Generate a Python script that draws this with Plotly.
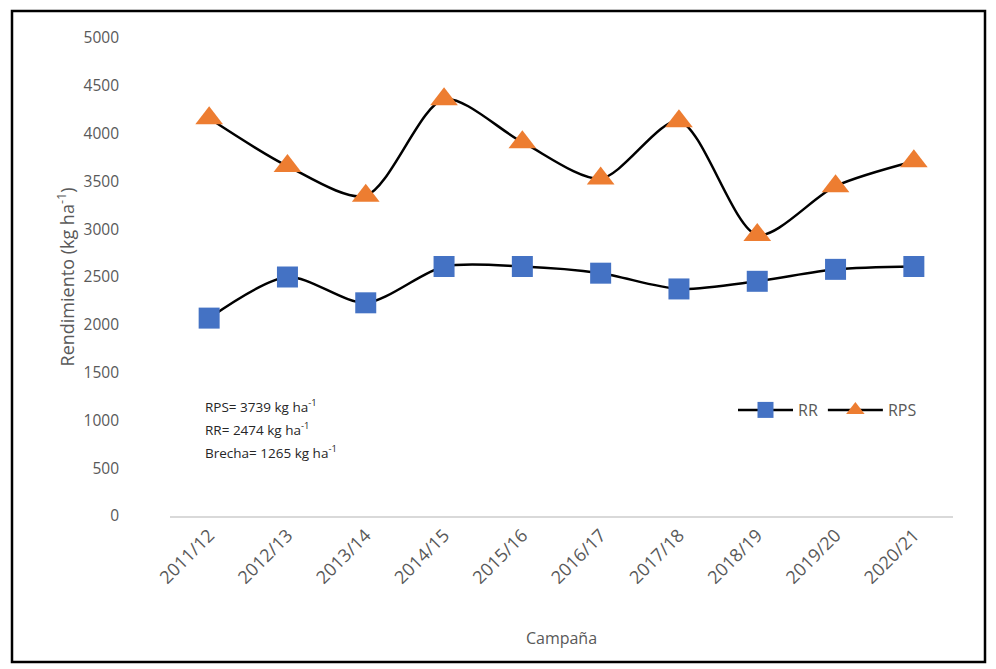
import plotly.graph_objects as go

campanas = ["2011/12", "2012/13", "2013/14", "2014/15", "2015/16",
            "2016/17", "2017/18", "2018/19", "2019/20", "2020/21"]
rr = [2070, 2500, 2230, 2610, 2610, 2540, 2375, 2455, 2580, 2610]
rps = [4160, 3660, 3350, 4360, 3910, 3530, 4130, 2940, 3450, 3710]
y_ticks = [0, 500, 1000, 1500, 2000, 2500, 3000, 3500, 4000, 4500, 5000]
notas = ["RPS= 3739 kg ha<sup>-1</sup>", "RR= 2474 kg ha<sup>-1</sup>", "Brecha= 1265 kg ha<sup>-1</sup>"]

FONT = "Open Sans"
GRAY = "#595959"

fig = go.Figure()
fig.add_trace(go.Scatter(
    x=campanas, y=rr, name="RR", mode="lines+markers",
    line=dict(color="black", width=2.5, shape="spline", smoothing=0.8),
    marker=dict(symbol="square", size=21, color="#4472C4"),
))
fig.add_trace(go.Scatter(
    x=campanas, y=rps, name="RPS", mode="lines+markers",
    line=dict(color="black", width=2.5, shape="spline", smoothing=0.8),
    marker=dict(symbol="triangle-up", size=24, color="#ED7D31"),
))

L, R, T, B = 170, 43, 38, 153
W, H = 996, 669
pw, ph = W - L - R, H - T - B

def px(x):
    return (x - L) / pw

def py(y):
    return (H - B - y) / ph

for i, txt in enumerate(notas):
    fig.add_annotation(
        x=px(203), y=py(406 + i * 23), xref="paper", yref="paper",
        text=txt, showarrow=False, xanchor="left", yanchor="middle",
        font=dict(family=FONT, size=13.5, color="#262626"),
    )

fig.add_shape(type="rect", xref="paper", yref="paper",
              x0=px(12), x1=px(985), y0=py(662), y1=py(11),
              line=dict(color="black", width=2.5))

fig.update_layout(
    width=W, height=H,
    margin=dict(l=L, r=R, t=T, b=B),
    paper_bgcolor="white", plot_bgcolor="white",
    font=dict(family=FONT, color=GRAY, size=15),
    legend=dict(orientation="h", x=px(733), y=py(410), xanchor="left", yanchor="middle",
                font=dict(family=FONT, size=16, color=GRAY), bgcolor="rgba(0,0,0,0)",
                itemwidth=55, tracegroupgap=0),
    xaxis=dict(
        type="category", range=[-0.5, 9.5], tickangle=-45,
        showline=True, linecolor="#d9d9d9", linewidth=1.5, showgrid=False, zeroline=False,
        ticks="", tickfont=dict(family=FONT, size=18, color=GRAY),
        title=dict(text="Campaña", font=dict(family=FONT, size=16, color=GRAY), standoff=45),
    ),
    yaxis=dict(
        range=[0, 5000], tickvals=y_ticks, showgrid=False, zeroline=False, showline=False,
        ticks="", ticklabelstandoff=50, tickfont=dict(family=FONT, size=15.5, color=GRAY),
        title=dict(text="Rendimiento (kg ha<sup>-1</sup>)",
                   font=dict(family=FONT, size=18, color=GRAY), standoff=4),
    ),
    showlegend=True,
)

fig.write_html("out.html")
